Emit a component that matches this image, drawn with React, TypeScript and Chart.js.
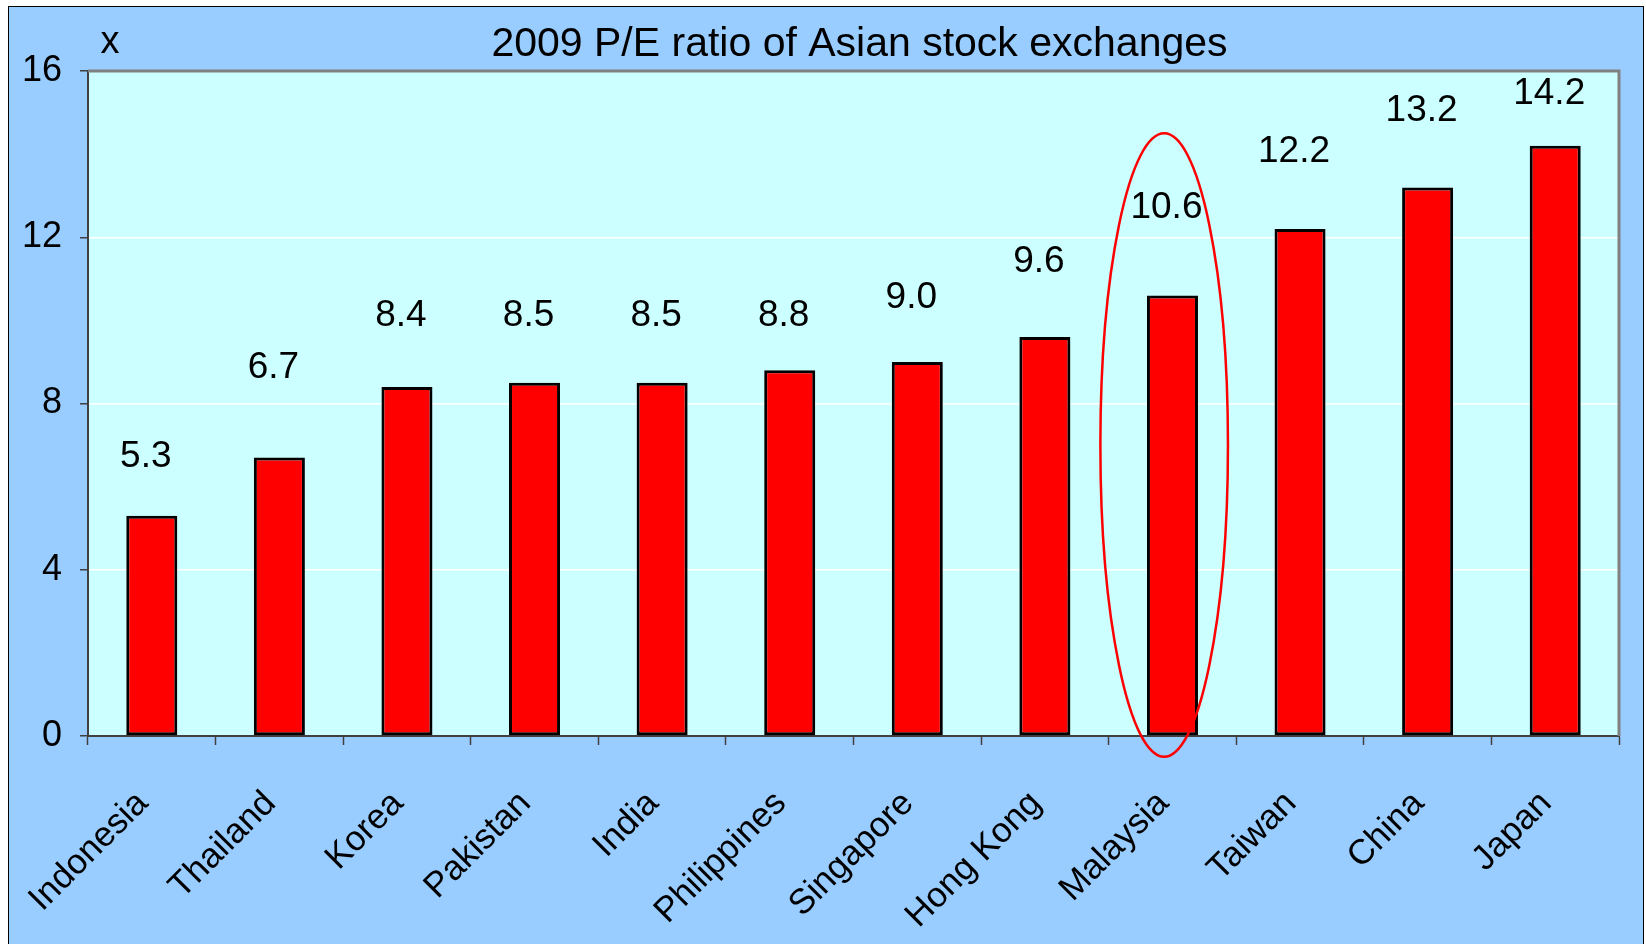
import React, { useEffect, useRef } from "react";
import { Chart, registerables } from "chart.js";

Chart.register(...registerables);

const categories: string[] = [
  "Indonesia", "Thailand", "Korea", "Pakistan", "India", "Philippines",
  "Singapore", "Hong Kong", "Malaysia", "Taiwan", "China", "Japan",
];
const peValues: number[] = [5.3, 6.7, 8.4, 8.5, 8.5, 8.8, 9.0, 9.6, 10.6, 12.2, 13.2, 14.2];
// vertical anchor (in axis units) of each value label, as placed in the source
const labelAnchors: number[] = [6.71, 8.87, 10.1, 10.1, 10.1, 10.1, 10.55, 11.4, 12.72, 14.05, 15.04, 15.45];
const yTicks: number[] = [0, 4, 8, 12, 16];
const titleText = "2009 P/E ratio of Asian stock exchanges";
const unitText = "x";
const highlighted = "Malaysia";
const highlightRange: number[] = [-0.5, 14.5];

const FONT = "'Liberation Sans', Arial, sans-serif";

const decorPlugin = {
  id: "decor",
  beforeDraw(chart: any) {
    const { ctx, chartArea, width, height } = chart;
    ctx.save();
    ctx.fillStyle = "#99CCFF";
    ctx.fillRect(0, 0, width, height);
    ctx.fillStyle = "#CCFFFF";
    ctx.fillRect(chartArea.left, chartArea.top, chartArea.right - chartArea.left, chartArea.bottom - chartArea.top);
    ctx.restore();
  },
  beforeDatasetsDraw(chart: any) {
    const { ctx, chartArea } = chart;
    ctx.save();
    ctx.strokeStyle = "#808080";
    ctx.lineWidth = 3;
    ctx.beginPath();
    ctx.moveTo(chartArea.left, chartArea.top);
    ctx.lineTo(chartArea.right, chartArea.top);
    ctx.lineTo(chartArea.right, chartArea.bottom);
    ctx.stroke();
    ctx.restore();
  },
  afterDatasetsDraw(chart: any) {
    const { ctx, chartArea, scales } = chart;
    const meta = chart.getDatasetMeta(0);
    const y = scales.y;
    const x = scales.x;
    ctx.save();
    ctx.fillStyle = "#000";
    ctx.textAlign = "center";
    ctx.textBaseline = "middle";
    ctx.font = `37px ${FONT}`;
    meta.data.forEach((bar: any, i: number) => {
      ctx.fillText(peValues[i].toFixed(1), bar.x - 6, y.getPixelForValue(labelAnchors[i]));
    });
    // title
    ctx.font = `41px ${FONT}`;
    ctx.fillText(titleText, (chartArea.left + chartArea.right) / 2 + 6, chartArea.top - 26);
    // unit
    ctx.font = `38px ${FONT}`;
    ctx.fillText(unitText, chartArea.left + 22, chartArea.top - 28);
    // ellipse highlight
    const idx = categories.indexOf(highlighted);
    const step = x.getPixelForValue(1) - x.getPixelForValue(0);
    const cx = x.getPixelForValue(idx) - step * 0.065;
    const yTop = y.getPixelForValue(highlightRange[1]);
    const yBot = y.getPixelForValue(highlightRange[0]);
    ctx.strokeStyle = "#FF0000";
    ctx.lineWidth = 2.5;
    ctx.beginPath();
    ctx.ellipse(cx, (yTop + yBot) / 2, step / 2, (yBot - yTop) / 2, 0, 0, Math.PI * 2);
    ctx.stroke();
    ctx.restore();
  },
};

export default function App() {
  const ref = useRef<HTMLCanvasElement>(null);
  useEffect(() => {
    if (!ref.current) return;
    const chart = new Chart(ref.current, {
      type: "bar",
      data: {
        labels: categories,
        datasets: [
          {
            data: peValues,
            backgroundColor: "#FF0000",
            borderColor: "#000000",
            borderWidth: 3,
            borderSkipped: false,
            categoryPercentage: 1,
            barPercentage: 0.4,
          },
        ],
      },
      options: {
        animation: false,
        responsive: true,
        maintainAspectRatio: false,
        layout: { padding: { top: 64, right: 24, left: 0, bottom: 0 } },
        plugins: { legend: { display: false }, tooltip: { enabled: false }, title: { display: false } },
        scales: {
          x: {
            grid: { drawOnChartArea: false, tickLength: 9, tickColor: "#404040", tickWidth: 1.5, offset: true },
            border: { color: "#404040", width: 2 },
            ticks: {
              color: "#000",
              font: { family: FONT, size: 35 },
              minRotation: 45,
              maxRotation: 45,
              padding: 38,
              labelOffset: -9,
              autoSkip: false,
            },
            afterFit(scale: any) {
              scale.height = 209;
              scale.paddingLeft = 0;
              scale.paddingRight = 0;
            },
          },
          y: {
            min: 0,
            max: 16,
            afterBuildTicks(scale: any) { scale.ticks = yTicks.map((v) => ({ value: v })); },
            grid: { color: "#FFFFFF", lineWidth: 1.5, tickLength: 8, tickColor: "#404040", tickWidth: 1.5 },
            border: { color: "#404040", width: 2 },
            ticks: { color: "#000", font: { family: FONT, size: 36 }, padding: 18 },
            afterFit(scale: any) { scale.width = 79; },
          },
        },
      },
      plugins: [decorPlugin],
    });
    return () => chart.destroy();
  }, []);
  return (
    <div
      style={{
        position: "fixed",
        left: 8,
        top: 6,
        width: 1634,
        height: 938,
        borderLeft: "1px solid #000",
        borderTop: "1px solid #000",
        borderRight: "1px solid #000",
        background: "#99CCFF",
      }}
    >
      <canvas ref={ref} />
    </div>
  );
}
